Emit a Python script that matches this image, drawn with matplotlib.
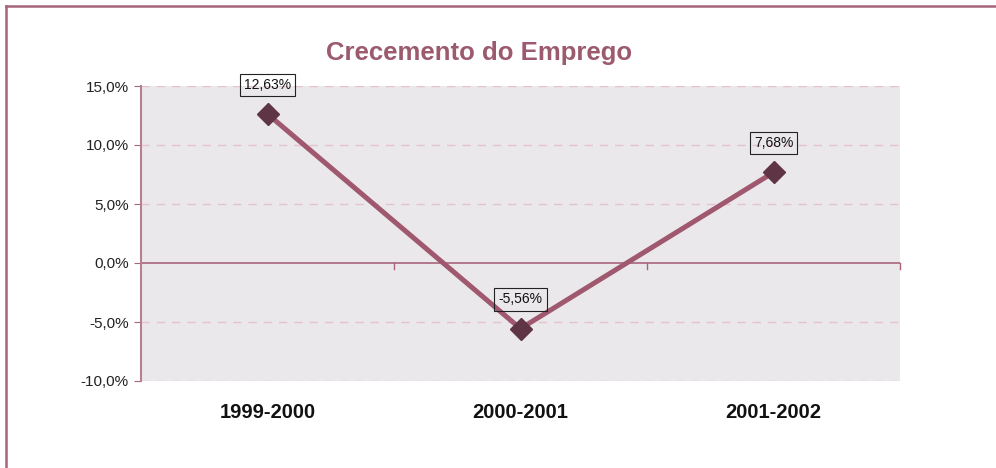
import matplotlib
matplotlib.use("Agg")
import matplotlib.pyplot as plt
from matplotlib.lines import Line2D

categories = ["1999-2000", "2000-2001", "2001-2002"]
values = [12.63, -5.56, 7.68]
labels = ["12,63%", "-5,56%", "7,68%"]
yticks = [-10, -5, 0, 5, 10, 15]
ytick_labels = ["-10,0%", "-5,0%", "0,0%", "5,0%", "10,0%", "15,0%"]

font = "Liberation Sans"

fig = plt.figure(figsize=(9.96, 4.68), dpi=100)
W, H = 996, 468
ax = fig.add_axes([141 / W, 1 - 381 / H, (900 - 141) / W, (381 - 86) / H])
ax.set_facecolor("#EAE8EA")

x = list(range(len(categories)))
ax.set_xlim(-0.5, len(categories) - 0.5)
ax.set_ylim(-10, 15)

for yv in yticks:
    if yv != 0:
        ax.axhline(yv, color="#E2C3CF", lw=1, ls=(0, (6, 5)), zorder=1)
ax.axhline(0, color="#A8647C", lw=1.2, zorder=2)
for b in [0.5, 1.5, 2.5]:
    ax.plot([b, b], [0, -0.5], color="#A8647C", lw=1, zorder=2, clip_on=False)

ax.plot(x, values, color="#A0586F", lw=3.6, zorder=3, solid_capstyle="round")
ax.plot(x, values, ls="none", marker="D", ms=11, color="#5F3445", zorder=4)

for xi, v, lab in zip(x, values, labels):
    ax.annotate(lab, (xi, v), xytext=(0, 21), textcoords="offset points",
                ha="center", va="center", fontsize=10, family=font, color="#111111",
                bbox=dict(boxstyle="square,pad=0.3", fc="none", ec="#222222", lw=0.8),
                zorder=5)

for s in ["top", "right", "bottom"]:
    ax.spines[s].set_visible(False)
ax.spines["left"].set_color("#B58096")
ax.spines["left"].set_linewidth(1.5)

ax.set_yticks(yticks)
ax.set_yticklabels(ytick_labels, family=font, fontsize=11, color="#222222")
ax.tick_params(axis="y", length=5, color="#A8647C", pad=4)
ax.set_xticks(x)
ax.set_xticklabels(categories, family=font, fontsize=14.5, fontweight="bold", color="#111111")
ax.tick_params(axis="x", length=0, pad=16)

fig.text(479 / W, 1 - 53 / H, "Crecemento do Emprego", ha="center", va="center",
         fontsize=18.5, fontweight="bold", color="#9C5A6E", family=font)

# outer frame (left and top edges)
fig.add_artist(Line2D([6 / W, 6 / W], [0, 1 - 6 / H], transform=fig.transFigure,
                      color="#A8647C", lw=1.8))
fig.add_artist(Line2D([6 / W, 1], [1 - 6 / H, 1 - 6 / H], transform=fig.transFigure,
                      color="#A8647C", lw=1.8))

fig.savefig("out.png", dpi=100)
